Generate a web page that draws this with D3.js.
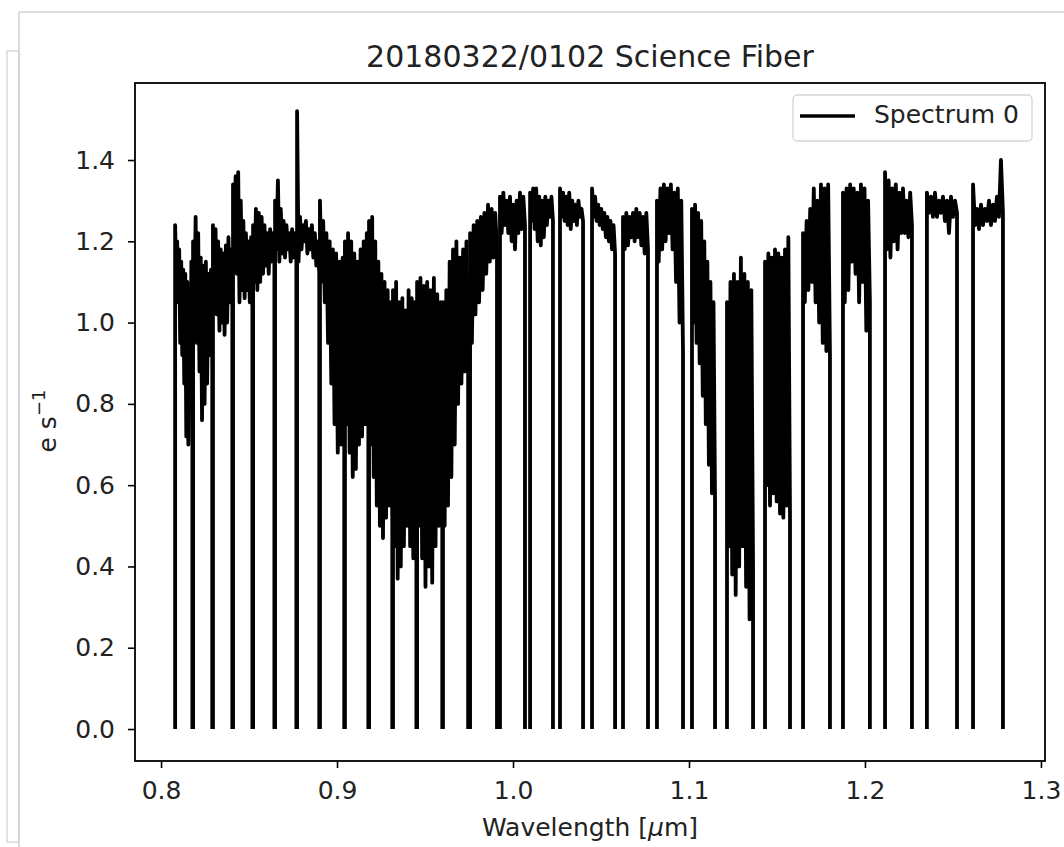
<!DOCTYPE html>
<html><head><meta charset="utf-8">
<script src="https://cdn.jsdelivr.net/npm/d3@7"></script>
<style>body{margin:0;background:#fff;} text{font-family:"DejaVu Sans",sans-serif;}</style>
</head><body><svg id="c" width="1064" height="847"></svg>
<script>
// Order edges (micron) and flux samples (e/s)
const orderStart = [0.8080,0.8182,0.8295,0.8409,0.8523,0.8648,0.8773,0.8903,0.9045,0.9182,0.9318,0.9455,0.9602,0.9756,0.9926,1.0097,1.0267,1.0449,1.0625,1.0818,1.1017,1.1216,1.1432,1.1648,1.1875,1.2114,1.2352,1.2614];
const orderEnd   = [0.8178,0.8291,0.8405,0.8519,0.8644,0.8769,0.8899,0.9041,0.9178,0.9314,0.9451,0.9598,0.9745,0.9909,1.0068,1.0227,1.0398,1.0580,1.0767,1.0966,1.1148,1.1364,1.1574,1.1801,1.2028,1.2267,1.2523,1.2784];
const orderFlux = [
 [1.24,1.12,1.20,1.05,1.18,0.95,1.15,0.92,1.13,0.85,1.12,0.72,1.10,0.70,1.08,0.80,1.15,0.95],
 [1.20,1.00,1.26,0.95,1.22,0.88,1.16,0.76,1.14,0.80,1.15,0.85,1.12,0.92,1.13,0.98],
 [1.24,1.05,1.23,1.02,1.20,0.98,1.18,1.00,1.17,0.97,1.19,1.00,1.21,1.05,1.18,1.05],
 [1.34,1.15,1.36,1.12,1.37,1.05,1.30,1.08,1.25,1.06,1.22,1.08,1.20,1.05,1.21,1.10],
 [1.24,1.10,1.28,1.08,1.27,1.10,1.26,1.12,1.24,1.14,1.22,1.12,1.23,1.15,1.22,1.18],
 [1.30,1.18,1.35,1.15,1.28,1.17,1.25,1.16,1.24,1.18,1.22,1.15,1.23,1.16,1.22,1.17],
 [1.52,1.15,1.26,1.18,1.24,1.20,1.25,1.17,1.23,1.18,1.24,1.16,1.22,1.14,1.20,1.12],
 [1.30,1.10,1.25,1.05,1.22,0.95,1.20,0.85,1.18,0.75,1.17,0.68,1.15,0.70,1.16,0.80],
 [1.20,0.75,1.22,0.68,1.20,0.62,1.17,0.64,1.15,0.70,1.18,0.72,1.20,0.75,1.22,0.80],
 [1.25,0.70,1.26,0.62,1.20,0.55,1.15,0.50,1.12,0.47,1.10,0.52,1.08,0.55,1.05,0.50],
 [1.08,0.45,1.10,0.37,1.05,0.40,1.06,0.45,1.03,0.50,1.08,0.45,1.06,0.42,1.05,0.48],
 [1.10,0.50,1.11,0.42,1.09,0.35,1.10,0.40,1.08,0.36,1.11,0.45,1.07,0.50,1.05,0.55],
 [1.05,0.50,1.08,0.55,1.15,0.62,1.18,0.70,1.20,0.80,1.16,0.85,1.18,0.88,1.20,0.90],
 [1.22,0.95,1.24,1.02,1.25,1.05,1.26,1.08,1.27,1.12,1.29,1.15,1.28,1.16,1.27,1.18],
 [1.31,1.22,1.32,1.24,1.30,1.22,1.31,1.20,1.29,1.18,1.30,1.22,1.32,1.23,1.31,1.24],
 [1.32,1.25,1.33,1.23,1.33,1.20,1.31,1.19,1.30,1.21,1.31,1.24,1.30,1.26,1.31,1.25],
 [1.33,1.26,1.32,1.25,1.31,1.24,1.32,1.23,1.30,1.25,1.29,1.24,1.30,1.26,1.28,1.25],
 [1.33,1.26,1.31,1.25,1.29,1.24,1.28,1.23,1.27,1.21,1.26,1.20,1.25,1.18,1.24,1.17],
 [1.26,1.18,1.27,1.19,1.26,1.21,1.27,1.20,1.28,1.21,1.27,1.19,1.26,1.17,1.27,1.18],
 [1.30,1.15,1.33,1.18,1.34,1.20,1.33,1.22,1.34,1.18,1.32,1.10,1.33,1.00,1.30,0.93],
 [1.28,1.00,1.29,0.95,1.27,0.90,1.25,0.82,1.20,0.75,1.15,0.65,1.10,0.58,1.05,0.56],
 [1.05,0.45,1.10,0.38,1.12,0.33,1.10,0.40,1.16,0.45,1.12,0.35,1.10,0.27,1.08,0.40],
 [1.15,0.60,1.17,0.55,1.16,0.58,1.18,0.56,1.17,0.53,1.16,0.52,1.18,0.55,1.21,0.52],
 [1.22,1.05,1.25,1.08,1.28,1.10,1.33,1.05,1.30,1.00,1.34,0.95,1.33,0.93,1.34,0.92],
 [1.32,1.05,1.33,1.08,1.34,1.15,1.33,1.12,1.32,1.05,1.34,1.10,1.33,0.98,1.30,1.05],
 [1.37,1.18,1.35,1.16,1.33,1.20,1.34,1.18,1.32,1.22,1.33,1.22,1.30,1.21,1.32,1.24],
 [1.32,1.27,1.31,1.26,1.32,1.26,1.30,1.27,1.31,1.25,1.30,1.22,1.31,1.26,1.30,1.27],
 [1.34,1.24,1.28,1.23,1.29,1.24,1.28,1.25,1.30,1.24,1.29,1.25,1.31,1.26,1.40,1.27]
];
const xTicks = [0.8,0.9,1.0,1.1,1.2,1.3];
const yTicks = [0.0,0.2,0.4,0.6,0.8,1.0,1.2,1.4];
const titleText = "20180322/0102 Science Fiber";
const legendLabel = "Spectrum 0";

const svg = d3.select('#c');
const L=135,R=1045,T=83,B=761;
const x = d3.scaleLinear().domain([0.7852,1.3023]).range([L,R]);
const y = d3.scaleLinear().domain([-0.0787,1.5895]).range([B,T]);

// notebook frame
svg.append('line').attr('x1',19).attr('x2',1064).attr('y1',12).attr('y2',12).attr('stroke','#d0d0d0').attr('stroke-width',1.5);
svg.append('line').attr('x1',19).attr('x2',19).attr('y1',12).attr('y2',847).attr('stroke','#d0d0d0').attr('stroke-width',1.5);
svg.append('rect').attr('x',7).attr('y',51).attr('width',12).attr('height',791).attr('fill','none').attr('stroke','#d0d0d0').attr('stroke-width',1.2);

svg.append('clipPath').attr('id','clip').append('rect').attr('x',L).attr('y',T).attr('width',R-L).attr('height',B-T);
const plot = svg.append('g').attr('clip-path','url(#clip)');
const line = d3.line().x(d=>x(d[0])).y(d=>y(d[1]));
orderFlux.forEach((vals,i)=>{
  const s=orderStart[i], e=orderEnd[i], n=vals.length;
  const pts=[[s,0]];
  vals.forEach((v,j)=>pts.push([s+(e-s)*j/(n-1), v]));
  pts.push([e,0]);
  plot.append('path').attr('d',line(pts)).attr('fill','none').attr('stroke','#000')
    .attr('stroke-width',3.8).attr('stroke-linejoin','round').attr('stroke-linecap','butt');
});

// axes
const yAx = svg.append('g').attr('transform',`translate(${L},0)`)
  .call(d3.axisLeft(y).tickValues(yTicks).tickFormat(d3.format('.1f')).tickSize(7).tickPadding(13));
const xAx = svg.append('g').attr('transform',`translate(0,${B})`)
  .call(d3.axisBottom(x).tickValues(xTicks).tickFormat(d3.format('.1f')).tickSize(7).tickPadding(13));
[yAx,xAx].forEach(g=>{
  g.select('.domain').remove();
  g.selectAll('.tick line').attr('stroke','#000').attr('stroke-width',1.6);
  g.selectAll('.tick text').attr('font-size',25).attr('fill','#222').attr('font-family','"DejaVu Sans",sans-serif');
});
svg.append('rect').attr('x',L).attr('y',T).attr('width',R-L).attr('height',B-T).attr('fill','none').attr('stroke','#000').attr('stroke-width',1.8);

// title & labels
svg.append('text').attr('x',(L+R)/2).attr('y',67).attr('text-anchor','middle').attr('font-size',30).attr('fill','#222').text(titleText);
const xl = svg.append('text').attr('x',(L+R)/2).attr('y',836).attr('text-anchor','middle').attr('font-size',25).attr('fill','#222');
xl.append('tspan').text('Wavelength [');
xl.append('tspan').attr('font-style','italic').text('μ');
xl.append('tspan').text('m]');
const yl = svg.append('text').attr('transform','translate(56,421) rotate(-90)').attr('text-anchor','middle').attr('font-size',25).attr('fill','#222');
yl.append('tspan').text('e s');
yl.append('tspan').attr('font-size',18).attr('dy',-11).text('−1');

// legend
const lg = svg.append('g');
lg.append('rect').attr('x',793).attr('y',95).attr('width',239).attr('height',46).attr('rx',4).attr('fill','#fff').attr('fill-opacity',0.8).attr('stroke','#d5d5d5').attr('stroke-width',1.3);
lg.append('line').attr('x1',800).attr('x2',855).attr('y1',116).attr('y2',116).attr('stroke','#000').attr('stroke-width',3.3);
lg.append('text').attr('x',874).attr('y',123).attr('font-size',25).attr('fill','#222').text(legendLabel);
</script></body></html>
